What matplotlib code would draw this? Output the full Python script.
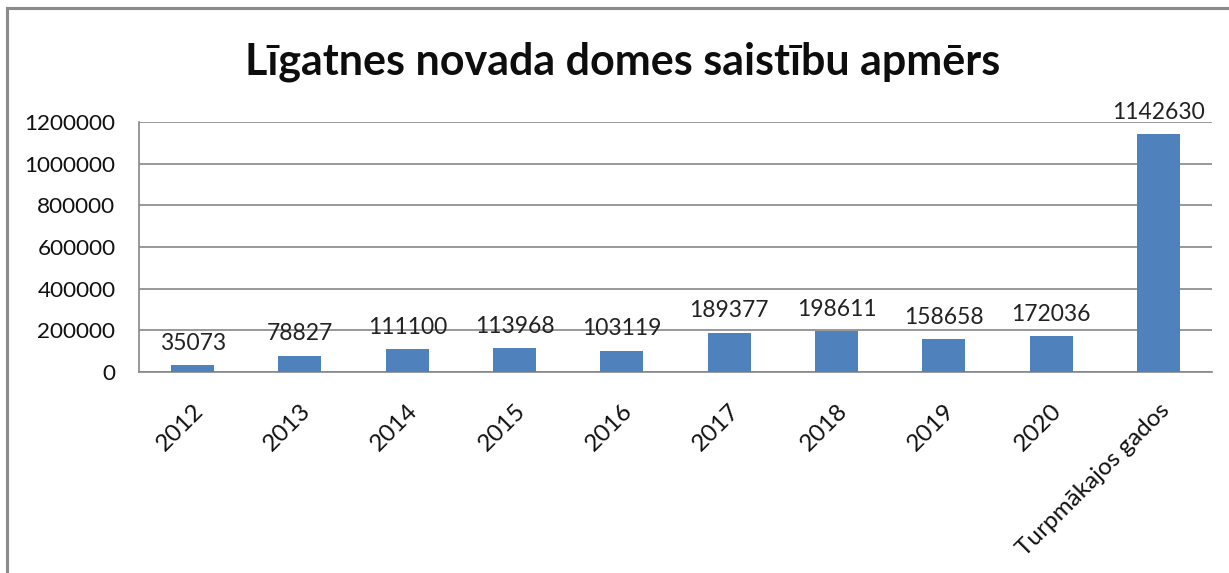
#!/usr/bin/env python3

import matplotlib
matplotlib.use("Agg")
import matplotlib.pyplot as plt
from matplotlib.patches import Rectangle

#==================================================================
categories = ["2012", "2013", "2014", "2015", "2016", "2017", "2018",
              "2019", "2020", "Turpmākajos gados"]
values = [35073, 78827, 111100, 113968, 103119, 189377, 198611,
          158658, 172036, 1142630]
yticks = [0, 200000, 400000, 600000, 800000, 1000000, 1200000]
title = "Līgatnes novada domes saistību apmērs"

bar_color = "#4F81BD"
grid_color = "#878787"

#==================================================================
def real_main():
    plt.rcParams['font.family'] = ['Lato', 'DejaVu Sans']
    fig = plt.figure(figsize=(12.29, 5.73), dpi=100)
    ax = fig.add_axes([0.1131, 0.3508, 0.8731, 0.4363])

    # outer chart border (only top and left show in the crop)
    fig.patches.append(Rectangle((7 / 1229, -0.1), 1.2, 1 - 8 / 573 + 0.1,
                                 transform=fig.transFigure, fill=False,
                                 edgecolor="#8a8a8a", linewidth=2.2))

    x = range(len(categories))
    ax.bar(x, values, width=0.4, color=bar_color, zorder=3)
    for xi, v in zip(x, values):
        ax.annotate(str(v), (xi, v), xytext=(0, 8), textcoords="offset points",
                    ha="center", va="bottom", fontsize=16.5, color="#222222")

    ax.set_xlim(-0.5, len(categories) - 0.5)
    ax.set_ylim(0, 1200000)
    ax.set_yticks(yticks)
    ax.set_yticklabels([str(t) for t in yticks], fontsize=16.2)
    ax.set_xticks(list(x))
    ax.set_xticklabels(categories, fontsize=17.5, rotation=45, ha="right",
                       rotation_mode="anchor")
    ax.tick_params(axis="both", length=0, colors="#111111")
    ax.tick_params(axis="x", pad=20)
    ax.tick_params(axis="y", pad=17)

    ax.yaxis.grid(True, color=grid_color, linewidth=1.2, zorder=0)
    for s in ["top", "right"]:
        ax.spines[s].set_visible(False)
    for s in ["left", "bottom"]:
        ax.spines[s].set_color(grid_color)
        ax.spines[s].set_linewidth(1.2)

    fig.text(0.507, 0.892, title, ha="center", va="center", fontsize=31,
             fontweight="bold", color="#0d0d0d")

    fig.savefig("out.png", dpi=100)


#==================================================================
if __name__ == "__main__":
    real_main()
